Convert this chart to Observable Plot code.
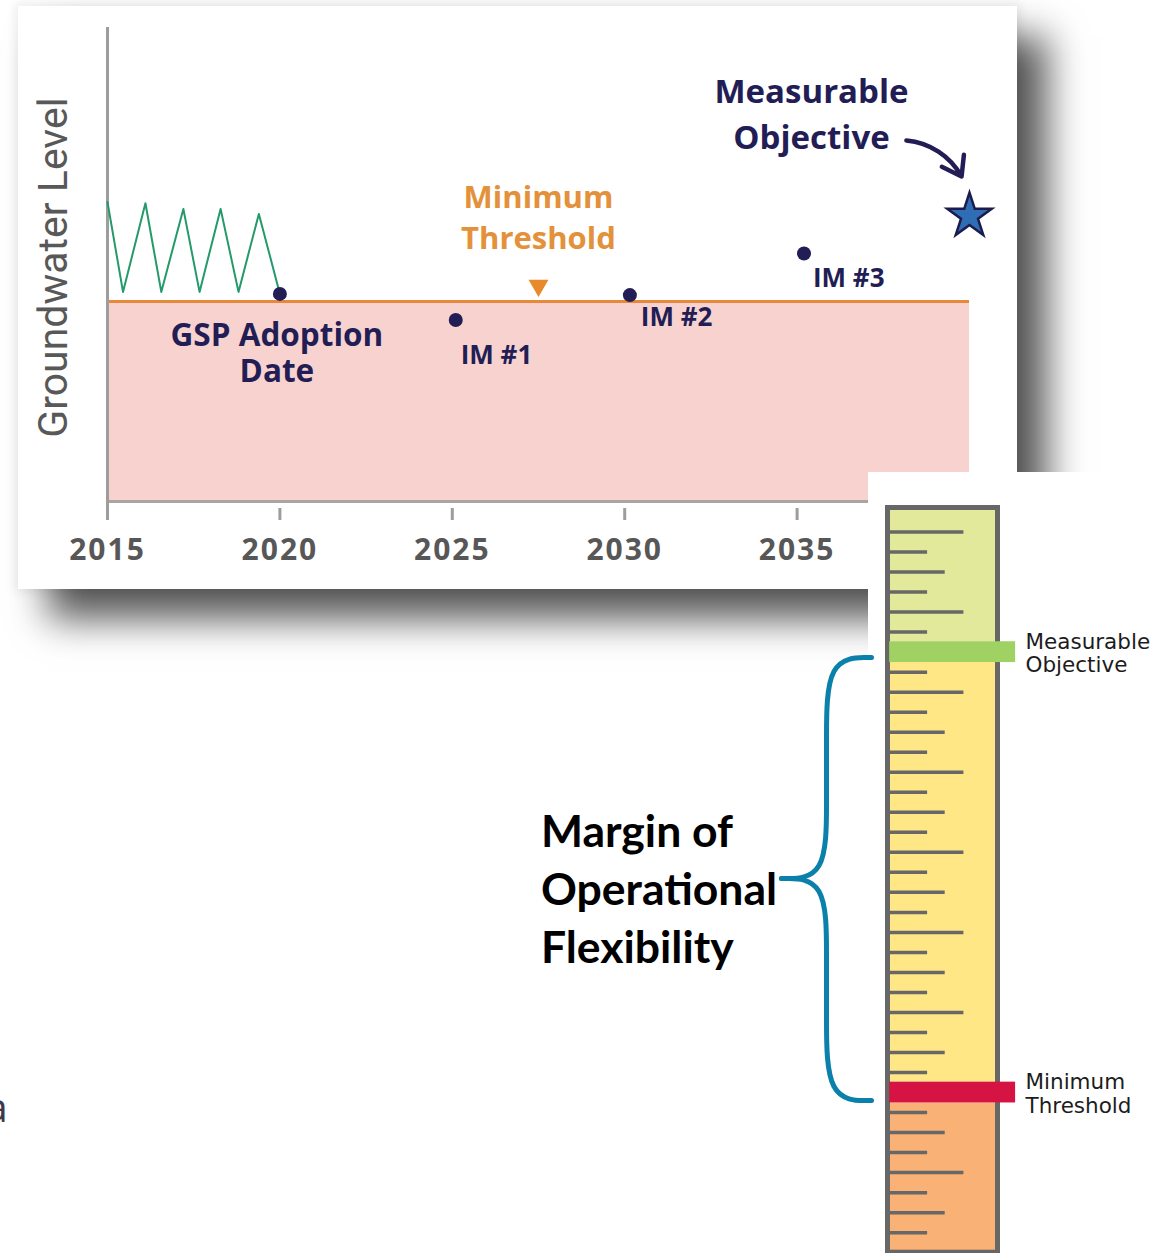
<!DOCTYPE html>
<html>
<head>
<meta charset="utf-8">
<script src="https://cdn.jsdelivr.net/npm/d3@7"></script>
<script src="https://cdn.jsdelivr.net/npm/@observablehq/plot@0.6"></script>
<style>
  html, body { margin: 0; padding: 0; background: #fff; }
  #page { position: relative; width: 1171px; height: 1253px; overflow: hidden; background: #fff; }
  #card { position: absolute; left: 18px; top: 6px; width: 999px; height: 583px; background: #fff;
          box-shadow: 0 0 10px 3px rgba(0,0,0,0.07), 30px 30px 36px rgba(0,0,0,0.66); }
  #main { position: absolute; left: 0; top: 0; }
  #panel { position: absolute; left: 868px; top: 472px; width: 303px; height: 781px; background: #fff; }
  #gauge { position: absolute; left: 500px; top: 472px; }
  #cut { position: absolute; left: -15px; top: 1086px; font: 41px "Open Sans"; line-height: 41px; color: #3b3950; }
  #main g[aria-label="x-axis tick label"] text { letter-spacing: 2px; }
</style>
</head>
<body>
<div id="page">
  <div id="card"></div>
  <div id="main"></div>
  <div id="panel"></div>
  <div id="gauge"></div>
  <div id="cut">a</div>
</div>
<script>
// ---------- Timeline chart data ----------
const axisYears = [2015, 2020, 2025, 2030, 2035];
const timelineStart = 2015;
const timelineEnd = 2040;

// historic fluctuating groundwater level before GSP adoption
const historyYears  = [2015.0, 2015.45, 2016.1, 2016.56, 2017.2, 2017.67, 2018.28, 2018.8, 2019.39, 2020.0];
const historyLevels = [149.7, 104.8, 149.1, 104.8, 146.3, 104.8, 146.3, 104.8, 143.8, 103.8];

// milestones (GSP adoption and interim milestones)
const milestoneNames  = ["GSP Adoption\nDate", "IM #1", "IM #2", "IM #3"];
const milestoneYears  = [2020, 2025.1, 2030.15, 2035.2];
const milestoneLevels = [103.8, 90.75, 103.2, 124];

const minimumThreshold = 100;
const thresholdLabel = "Minimum\nThreshold";
const thresholdMarkerYear = 2027.5;

const objectiveLabel = "Measurable\nObjective";
const objectiveYear = 2040;
const objectiveLevel = 142.75;

const yAxisTitle = "Groundwater Level";

// ---------- Gauge data ----------
const gaugeTickLevels = [36, 35, 34, 33, 32, 31, 29, 28, 27, 26, 25, 24, 23, 22, 21, 20, 19, 18, 17, 16, 15, 14, 13, 12, 11, 10, 9, 7, 6, 5, 4, 3, 2, 1];
const gaugeTickKinds  = ["major","minor","mid","minor","major","minor","minor","major","minor","mid","minor","major","minor","mid","minor","major","minor","mid","minor","major","minor","mid","minor","major","minor","mid","minor","minor","mid","minor","major","minor","mid","minor"];
const gaugeTop = 37.2;
const gaugeObjectiveLevel = 30;
const gaugeThresholdLevel = 8;
const gaugeObjectiveText = "Measurable\nObjective";
const gaugeThresholdText = "Minimum\nThreshold";
const marginText = "Margin of\nOperational\nFlexibility";

// ---------- build tables ----------
const history = historyYears.map((year, i) => ({year, level: historyLevels[i]}));
const milestones = milestoneNames.map((name, i) => ({name, year: milestoneYears[i], level: milestoneLevels[i]}));
const threshold = [{name: thresholdLabel, year: thresholdMarkerYear, level: minimumThreshold}];
const objective = [{name: objectiveLabel, year: objectiveYear, level: objectiveLevel}];

const navy = "#221e55";
const fontBold = {fontFamily: "'Open Sans'", fontWeight: 700};

const main = Plot.plot({
  width: 1017, height: 590,
  marginLeft: 107, marginRight: 48, marginTop: 27, marginBottom: 89,
  x: {domain: [timelineStart, timelineEnd]},
  y: {domain: [0, 237], axis: null},
  style: {background: "transparent", overflow: "visible", fontFamily: "'Open Sans'"},
  marks: [
    Plot.rect(threshold, {x1: timelineStart, x2: timelineEnd, y1: 0, y2: "level", fill: "#f8d2cf"}),
    Plot.ruleY([0], {x1: timelineStart, x2: timelineEnd, stroke: "#aca4a4", strokeWidth: 3}),
    Plot.ruleY(threshold, {y: "level", x1: timelineStart, x2: timelineEnd, stroke: "#e8883a", strokeWidth: 3}),
    Plot.ruleX(axisYears, {y1: -3.5, y2: -9.5, stroke: "#9d9d9d", strokeWidth: 3}),
    Plot.ruleX([timelineStart], {y1: -9.5, y2: 237, stroke: "#9d9d9d", strokeWidth: 3}),
    Plot.axisX({ticks: axisYears, tickFormat: "d", tickSize: 0, tickPadding: 37, fontSize: 30, fontWeight: 700, color: "#575757", label: null}),
    Plot.text([yAxisTitle], {text: d => d, frameAnchor: "left", textAnchor: "middle", rotate: -90, dx: -54, dy: 3, fontSize: 41, fontFamily: "Roboto", fill: "#585858"}),
    Plot.line(history, {x: "year", y: "level", stroke: "#249a6b", strokeWidth: 2}),
    Plot.dot(milestones, {x: "year", y: "level", r: 7, fill: navy}),
    Plot.text(milestones.filter(d => d.name.startsWith("GSP")), {x: "year", y: "level", text: "name", textAnchor: "middle", lineAnchor: "top", dx: -3, dy: 27, fontSize: 31.5, lineHeight: 1.13, fill: navy, ...fontBold}),
    Plot.text(milestones.filter(d => d.name === "IM #1"), {x: "year", y: "level", text: "name", textAnchor: "start", lineAnchor: "top", dx: 5, dy: 26, fontSize: 26, fill: navy, ...fontBold}),
    Plot.text(milestones.filter(d => d.name === "IM #2"), {x: "year", y: "level", text: "name", textAnchor: "start", lineAnchor: "top", dx: 11, dy: 12, fontSize: 26, fill: navy, ...fontBold}),
    Plot.text(milestones.filter(d => d.name === "IM #3"), {x: "year", y: "level", text: "name", textAnchor: "start", lineAnchor: "top", dx: 9, dy: 15, fontSize: 26, fill: navy, ...fontBold}),
    Plot.dot(threshold, {x: "year", y: "level", symbol: "triangle", rotate: 180, r: 7.4, dy: -16, fill: "#e8892b"}),
    Plot.text(threshold, {x: "year", y: "level", text: "name", textAnchor: "middle", lineAnchor: "top", dy: -123, fontSize: 31, lineHeight: 1.335, fill: "#e3913a", ...fontBold}),
    Plot.dot(objective, {x: "year", y: "level", symbol: "star", r: 14, fill: "#2f6db5", stroke: "#1c1b4d", strokeWidth: 2.5}),
    Plot.text(objective, {x: "year", y: "level", text: "name", textAnchor: "middle", lineAnchor: "top", dx: -158, dy: -145, fontSize: 33, lineHeight: 1.38, fill: navy, ...fontBold}),
    Plot.arrow(objective, {x1: 2038.17, y1: 180.5, x2: 2039.77, y2: 162.5, bend: 28, stroke: navy, strokeWidth: 4.5, headLength: 16, headAngle: 70})
  ]
});
document.getElementById("main").appendChild(main);

// ---------- Gauge ----------
const tickLen = {major: 69, mid: 52, minor: 36};
const gaugeTicks = gaugeTickLevels.map((level, i) => ({level, kind: gaugeTickKinds[i]}));
const zones = [
  {name: "above objective", lo: gaugeObjectiveLevel + 0.52, hi: gaugeTop, color: "#e3e99b"},
  {name: "operational range", lo: gaugeThresholdLevel + 0.52, hi: gaugeObjectiveLevel - 0.52, color: "#fee784"},
  {name: "below threshold", lo: 0, hi: gaugeThresholdLevel - 0.52, color: "#f9b175"}
];
const bars = [
  {name: gaugeObjectiveText, level: gaugeObjectiveLevel, color: "#9fd163"},
  {name: gaugeThresholdText, level: gaugeThresholdLevel, color: "#d51444"}
];
// brace spanning the margin between threshold and objective
const brace = [
  {part: "upper", u: -15,   v: 29.73}, {part: "upper", u: -55.9, v: 29.73}, {part: "upper", u: -55.9, v: 25.59},
  {part: "upper", u: -55.9, v: 22.59}, {part: "upper", u: -55.9, v: 18.69}, {part: "upper", u: -96.8, v: 18.69},
  {part: "lower", u: -96.8, v: 18.69}, {part: "lower", u: -55.9, v: 18.69}, {part: "lower", u: -55.9, v: 14.80},
  {part: "lower", u: -55.9, v: 11.80}, {part: "lower", u: -55.9, v: 7.60},  {part: "lower", u: -15,   v: 7.60}
];

const gauge = Plot.plot({
  width: 671, height: 781,
  marginLeft: 387.5, marginRight: 173.5, marginTop: 35.5, marginBottom: 0.8,
  x: {domain: [0, 100], axis: null},
  y: {domain: [0, gaugeTop], axis: null},
  color: {type: "identity"},
  style: {background: "transparent", overflow: "visible"},
  marks: [
    Plot.rect(zones, {x1: 0, x2: 100, y1: "lo", y2: "hi", fill: "color"}),
    Plot.ruleY(gaugeTicks, {y: "level", x1: 0, x2: d => tickLen[d.kind], stroke: "#676767", strokeWidth: 3.5}),
    Plot.rect([gaugeTop], {x1: 0, x2: 100, y1: 0, y2: gaugeTop, fill: "none", stroke: "#676767", strokeWidth: 5}),
    Plot.rect(bars, {x1: 1.5, x2: 116, y1: d => d.level - 0.52, y2: d => d.level + 0.52, fill: "color"}),
    Plot.text(bars, {x: 125, y: "level", text: "name", textAnchor: "start", lineAnchor: "middle", dy: 1, fontSize: 21.5, lineHeight: 1.08, fontFamily: "'DejaVu Sans'", fill: "#1c1c1c"}),
    Plot.line(brace, {x: "u", y: "v", z: "part", curve: "basis", stroke: "#0a80aa", strokeWidth: 5, strokeLinecap: "round", strokeLinejoin: "round"}),
    Plot.text([marginText], {text: d => d, x: -315.5, y: 18.3, textAnchor: "start", lineAnchor: "middle", fontSize: 44.5, lineHeight: 1.3, fontFamily: "Lato", fontWeight: 700, fill: "#000"})
  ]
});
document.getElementById("gauge").appendChild(gauge);
</script>
</body>
</html>
